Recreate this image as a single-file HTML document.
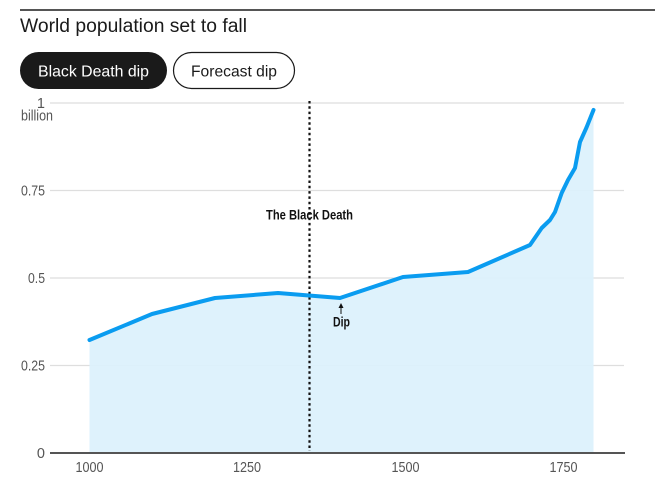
<!DOCTYPE html>
<html><head><meta charset="utf-8"><style>
html,body{margin:0;padding:0;background:#fff;}
svg{display:block;}
.t{font-family:"Liberation Sans Narrow","Liberation Sans",sans-serif;font-stretch:condensed;fill:#555;font-size:14.5px;}
</style></head><body>
<svg width="655" height="489" viewBox="0 0 655 489" xmlns="http://www.w3.org/2000/svg">
<rect x="20" y="9" width="635" height="2" fill="#555"/>
<text x="20" y="32" font-family="Liberation Sans, sans-serif" font-size="19" fill="#1a1a1a" textLength="227" lengthAdjust="spacingAndGlyphs">World population set to fall</text>
<rect x="20" y="52" width="147" height="37" rx="18.5" fill="#1a1a1a"/>
<text x="38" y="76.5" font-family="Liberation Sans, sans-serif" font-size="16" fill="#fff" textLength="111" lengthAdjust="spacingAndGlyphs">Black Death dip</text>
<rect x="173.5" y="52.5" width="121" height="36" rx="18" fill="#fff" stroke="#1a1a1a" stroke-width="1.2"/>
<text x="191" y="76.5" font-family="Liberation Sans, sans-serif" font-size="16" fill="#1a1a1a" textLength="86" lengthAdjust="spacingAndGlyphs">Forecast dip</text>
<g stroke="#dedede" stroke-width="1.3">
<line x1="50" y1="103" x2="624" y2="103"/>
<line x1="50" y1="190.5" x2="624" y2="190.5"/>
<line x1="50" y1="278" x2="624" y2="278"/>
<line x1="50" y1="365.5" x2="624" y2="365.5"/>
</g>
<polygon fill="#dbf1fc" fill-opacity="0.92" points="89.5,340 152,314 215,298 278,293 340,298 403,277 468,272 530,245 541.7,228 550,220 555,212 561.7,193 568,180 575,168 580,142 586.7,127 593.5,110 593.5,453 89.5,453"/>
<rect x="50" y="452" width="575" height="2" fill="#555"/>
<line x1="309.5" y1="101" x2="309.5" y2="451" stroke="#111" stroke-width="2.2" stroke-dasharray="2.5,2.8"/>
<polyline fill="none" stroke="#0a9cf0" stroke-width="4" stroke-linejoin="round" stroke-linecap="round" points="89.5,340 152,314 215,298 278,293 340,298 403,277 468,272 530,245 541.7,228 550,220 555,212 561.7,193 568,180 575,168 580,142 586.7,127 593.5,110"/>
<text class="t" x="45" y="108" text-anchor="end">1</text>
<text class="t" x="21" y="120.5" textLength="32" lengthAdjust="spacingAndGlyphs">billion</text>
<text class="t" x="45" y="195.5" text-anchor="end" textLength="24" lengthAdjust="spacingAndGlyphs">0.75</text>
<text class="t" x="45" y="283" text-anchor="end" textLength="17" lengthAdjust="spacingAndGlyphs">0.5</text>
<text class="t" x="45" y="370.5" text-anchor="end" textLength="24" lengthAdjust="spacingAndGlyphs">0.25</text>
<text class="t" x="45" y="458" text-anchor="end">0</text>
<text class="t" x="75.5" y="472" textLength="28" lengthAdjust="spacingAndGlyphs">1000</text>
<text class="t" x="233" y="472" textLength="28" lengthAdjust="spacingAndGlyphs">1250</text>
<text class="t" x="391.5" y="472" textLength="28" lengthAdjust="spacingAndGlyphs">1500</text>
<text class="t" x="549.5" y="472" textLength="28" lengthAdjust="spacingAndGlyphs">1750</text>
<text x="266" y="219.5" font-family="Liberation Sans Narrow, Liberation Sans, sans-serif" font-weight="bold" font-size="13.5" fill="#111" textLength="87" lengthAdjust="spacingAndGlyphs">The Black Death</text>
<line x1="341" y1="314" x2="341" y2="307" stroke="#111" stroke-width="1"/>
<polygon points="341,303 338.5,308 343.5,308" fill="#111"/>
<text x="333" y="326.5" font-family="Liberation Sans Narrow, Liberation Sans, sans-serif" font-weight="bold" font-size="13.5" fill="#111" textLength="17" lengthAdjust="spacingAndGlyphs">Dip</text>
</svg>
</body></html>
